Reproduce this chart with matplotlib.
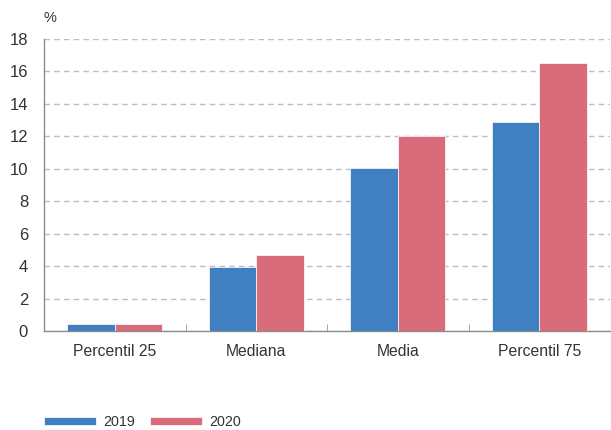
import matplotlib
matplotlib.use("Agg")
import matplotlib.pyplot as plt
import numpy as np

categories = ["Percentil 25", "Mediana", "Media", "Percentil 75"]
series_names = ["2019", "2020"]
values_2019 = [0.45, 3.95, 10.05, 12.9]
values_2020 = [0.42, 4.7, 12.05, 16.5]

BLUE = "#3f7fc2"
RED = "#d86c7b"
TXT = "#333333"

plt.rcParams["font.family"] = ["Liberation Sans", "DejaVu Sans"]

fig = plt.figure(figsize=(6.11, 4.30), dpi=100)
ax = fig.add_axes([44 / 611, 1 - 331 / 430, (610 - 44) / 611, (331 - 39) / 430])

x = np.arange(len(categories))
w = 0.335
ax.bar(x - w / 2, values_2019, w, color=BLUE, edgecolor="white", linewidth=0.5,
       label=series_names[0], zorder=3)
ax.bar(x + w / 2, values_2020, w, color=RED, edgecolor="white", linewidth=0.5,
       label=series_names[1], zorder=3)

ax.set_xlim(-0.5, len(categories) - 0.5)
ax.set_ylim(0, 18)
ax.set_yticks(np.arange(0, 19, 2))
ax.yaxis.grid(True, color="#bdbdbd", ls=(0, (4, 3)), lw=1, zorder=0)
ax.set_axisbelow(True)

ax.set_xticks(x)
ax.set_xticklabels(categories, fontsize=11.3, color=TXT)
ax.set_xticks(x[:-1] + 0.5, minor=True)
ax.tick_params(axis="x", which="major", length=0, pad=9)
ax.tick_params(axis="x", which="minor", direction="in", length=5, color="#999999")
ax.tick_params(axis="y", length=0, labelsize=12, labelcolor=TXT, pad=11.5)

for s in ["top", "right"]:
    ax.spines[s].set_visible(False)
for s in ["left", "bottom"]:
    ax.spines[s].set_color("#8c8c8c")
    ax.spines[s].set_linewidth(1)

fig.text(50 / 611, 1 - 18 / 430, "%", fontsize=10.5, color=TXT, va="center", ha="center")

fig.legend(loc="center left", bbox_to_anchor=(44 / 611, 1 - 422 / 430), ncol=2,
           frameon=False, fontsize=10.3, handlelength=3.64, handleheight=0.56,
           columnspacing=1.05, handletextpad=0.5, labelcolor=TXT,
           borderaxespad=0, borderpad=0)

fig.savefig("out.png", dpi=100)
